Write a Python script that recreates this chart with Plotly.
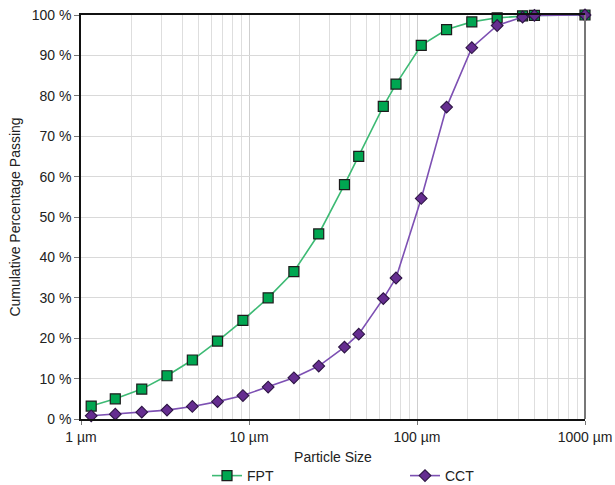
import plotly.graph_objects as go

sizes_um = [1.15, 1.6, 2.3, 3.25, 4.6, 6.5, 9.2, 13, 18.5, 26, 37, 45, 63, 75, 106, 150, 212, 300, 425, 500, 1000]
fpt = [3.2, 5.0, 7.4, 10.7, 14.6, 19.3, 24.4, 30.0, 36.5, 45.8, 58.0, 65.0, 77.4, 82.9, 92.5, 96.4, 98.3, 99.3, 99.8, 99.9, 100]
cct = [0.8, 1.2, 1.7, 2.2, 3.1, 4.3, 5.8, 7.9, 10.2, 13.1, 17.8, 21.0, 29.8, 34.9, 54.6, 77.2, 91.9, 97.4, 99.5, 99.9, 100]

x_tickvals = [1, 10, 100, 1000]
x_ticktext = ["1 µm", "10 µm", "100 µm", "1000 µm"]
x_minor = [m * d for d in (1, 10, 100) for m in range(2, 10)]
y_tickvals = list(range(0, 101, 10))
y_ticktext = [f"{v} %" for v in y_tickvals]

FONT = "Liberation Sans, Arial, sans-serif"

fig = go.Figure()
fig.add_trace(go.Scatter(
    x=sizes_um, y=fpt, name="FPT", mode="lines+markers", legend="legend",
    line=dict(color="#3dba74", width=1.6),
    marker=dict(symbol="square", size=10, color="#00a651", line=dict(color="#1c1c1c", width=1.2)),
    cliponaxis=False,
))
fig.add_trace(go.Scatter(
    x=sizes_um, y=cct, name="CCT", mode="lines+markers", legend="legend2",
    line=dict(color="#7d50b3", width=1.6),
    marker=dict(symbol="diamond", size=9, color="#652d90", line=dict(color="#2e1545", width=1.1)),
    cliponaxis=False,
))

LEG_Y = (419 - 476) / 404

fig.update_layout(
    width=615, height=485,
    margin=dict(l=81, r=30, t=15, b=66, autoexpand=False),
    paper_bgcolor="white", plot_bgcolor="white",
    font=dict(family=FONT, size=14, color="#222222"),
    showlegend=True,
    legend=dict(orientation="h", x=(207 - 81) / 504, xanchor="left", y=LEG_Y, yanchor="middle",
                font=dict(size=14), bgcolor="rgba(0,0,0,0)", itemwidth=30, borderwidth=0),
    legend2=dict(orientation="h", x=(405 - 81) / 504, xanchor="left", y=LEG_Y, yanchor="middle",
                 font=dict(size=14), bgcolor="rgba(0,0,0,0)", itemwidth=30, borderwidth=0),
    xaxis=dict(
        type="log", range=[0, 3], automargin=False,
        tickvals=x_tickvals, ticktext=x_ticktext,
        showgrid=True, gridcolor="#cfcfcf", gridwidth=1,
        minor=dict(tickvals=x_minor, showgrid=True, gridcolor="#dedede", gridwidth=1, ticks=""),
        showline=True, linecolor="#111111", linewidth=1.5, mirror=True,
        ticks="outside", ticklen=4, tickcolor="#777777",
        zeroline=False,
        title=dict(text="Particle Size", font=dict(size=14), standoff=9),
        tickfont=dict(size=14),
    ),
    yaxis=dict(
        range=[0, 100], automargin=False,
        tickvals=y_tickvals, ticktext=y_ticktext,
        showgrid=True, gridcolor="#d9d9d9", gridwidth=1,
        showline=True, linecolor="#111111", linewidth=1.5,
        ticks="outside", ticklen=5, tickcolor="#777777",
        zeroline=False,
        title=dict(text="Cumulative Percentage Passing", font=dict(size=14), standoff=8),
        tickfont=dict(size=14),
    ),
    shapes=[dict(type="line", xref="x domain", yref="y domain", x0=1, x1=1, y0=0, y1=1,
                 line=dict(color="#777777", width=2), layer="above")],
)

fig.write_html("out.html")
